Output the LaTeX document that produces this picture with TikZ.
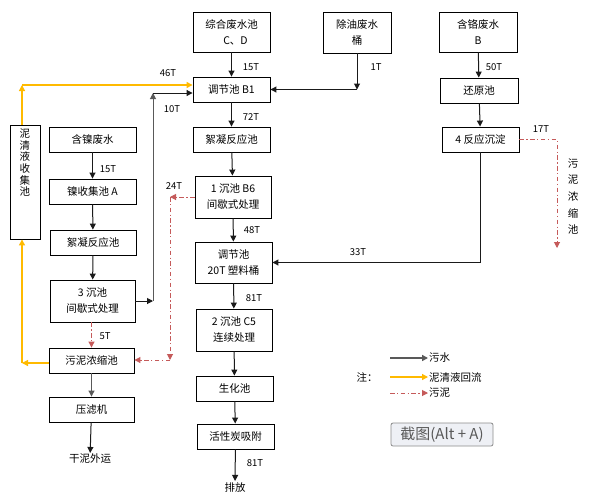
\documentclass[tikz,border=0pt]{standalone}
\usepackage{fontspec}
\setmainfont{Noto Sans CJK SC}
\usetikzlibrary{arrows.meta,positioning}
\definecolor{ink}{HTML}{1A1A1A}
\definecolor{pipe}{HTML}{595959}
\definecolor{recycle}{HTML}{FFBA00}
\definecolor{sludge}{HTML}{C55A5A}
\definecolor{btnfill}{HTML}{EEF0F5}
\definecolor{btnedge}{HTML}{8C8C8C}
\tikzset{
tank/.style={draw=black,line width=.9pt,align=center,font=\fontsize{10.5}{16}\selectfont,inner sep=1pt,minimum height=25pt},
flow/.style={-{Triangle[length=6pt,width=6pt]},line width=1pt,draw=ink},
pipeflow/.style={flow,draw=pipe},
reflux/.style={flow,draw=recycle,line width=1.3pt},
mud/.style={flow,draw=sludge,dash pattern=on 4.5pt off 2.5pt on 1.2pt off 2.5pt},
tag/.style={font=\fontsize{9.5}{11}\selectfont,inner sep=1pt},
note/.style={font=\fontsize{10.5}{12}\selectfont,inner sep=1pt},
button/.style={draw=btnedge,fill=btnfill,rounded corners=2pt,line width=.8pt,text=black!65,font=\fontsize{15}{16}\selectfont,inner sep=1pt}}

\begin{document}
\begin{tikzpicture}[x=1pt,y=-1pt]
\useasboundingbox[fill=white] (0,0) rectangle (591,499);
% sources
\node[tank,minimum width=77pt,minimum height=40pt] (mixed) at (231.5,32) {综合废水池\\\hspace{8pt}C、D};
\node[tank,minimum width=68pt,minimum height=41pt] (oily) at (357,32.5) {除油废水\\桶};
\node[tank,minimum width=78pt,minimum height=40pt] (chrome) at (478,32) {含铬废水\\B};
\node[tank,minimum width=87pt] (nickel) at (92.5,139.5) {含镍废水};
% main line
\node[tank,minimum width=77pt] (b1) at (231.5,89.5) {调节池 B1};
\node[tank,minimum width=77pt] (floc) at (231.5,139.5) {絮凝反应池};
\node[tank,minimum width=76pt,minimum height=42pt] (b6) at (233,197) {1 沉池 B6\\间歇式处理};
\node[tank,minimum width=77pt,minimum height=41pt] (drum) at (233.5,262.5) {调节池\\20T 塑料桶};
\node[tank,minimum width=76pt,minimum height=42pt] (c5) at (234,330) {2 沉池 C5\\连续处理};
\node[tank,minimum width=77pt] (bio) at (234.5,388.5) {生化池};
\node[tank,minimum width=77pt] (carbon) at (235.5,436.5) {活性炭吸附};
\node[note] (outlet) at (235,487) {排放};
% chrome line
\node[tank,minimum width=78pt] (reduce) at (479,90.5) {还原池};
\node[tank,minimum width=77pt] (react4) at (480.5,139.5) {4 反应沉淀};
\node[note,align=center,font=\fontsize{10.5}{16.7}\selectfont] (crsludge) at (573,196.5) {污\\泥\\浓\\缩\\池};
% nickel line
\node[tank,minimum width=87pt] (nipool) at (92.5,191.5) {镍收集池 A};
\node[tank,minimum width=86pt] (nifloc) at (93,242.5) {絮凝反应池};
\node[tank,minimum width=85pt,minimum height=42pt] (settle3) at (92.5,301) {3 沉池\\间歇式处理};
\node[tank,minimum width=85pt] (thicken) at (91.5,360.5) {污泥浓缩池};
\node[tank,minimum width=85pt] (press) at (91.5,409.5) {压滤机};
\node[note] (cake) at (90,459) {干泥外运};
\node[tank,minimum width=30pt,minimum height=114pt] (slurry) at (25,182) {};
\node[note,align=center,font=\fontsize{10.5}{11.7}\selectfont,below=3pt of slurry.north] (slurrytxt) {泥\\清\\液\\收\\集\\池};
% bends
\coordinate (ojoin) at (oily.south |- b1.east);
\coordinate (rise) at (153,301);
\coordinate (turn) at (153,93);
\coordinate (ylow) at (22,363);
\coordinate (ytop) at (22,85);
\coordinate (mbend) at (170,197);
\coordinate (mfoot) at (170,360);
\coordinate (cdrop) at (557,248);
% sewage
\draw[flow] (mixed) -- (b1);
\draw[flow] (oily) -- (ojoin);
\draw[flow] (ojoin) -- (b1.east);
\draw[flow] (b1) -- (floc);
\draw[flow] (floc) -- (b6);
\draw[flow] (b6) -- (drum);
\draw[flow] (drum) -- (c5);
\draw[flow] (c5) -- (bio);
\draw[flow] (bio) -- (carbon);
\draw[flow] (carbon) -- (outlet);
\draw[flow] (chrome) -- (reduce);
\draw[flow] (reduce) -- (react4);
\draw[flow] (react4.south) |- (drum.east);
\draw[flow] (nickel) -- (nipool);
\draw[flow] (nipool) -- (nifloc);
\draw[flow] (nifloc) -- (settle3);
\draw[flow] (settle3.east) -- (rise);
\draw[pipeflow] (rise) -- (turn);
\draw[flow] (turn) -- (turn -| b1.west);
\draw[pipeflow] (thicken) -- (press);
\draw[flow] (press) -- (cake);
% slurry return
\draw[reflux] (ylow -| thicken.west) -- (ylow);
\draw[reflux] (ylow) -- (ylow |- slurry.south);
\draw[reflux] (ytop |- slurry.north) -- (ytop);
\draw[reflux] (ytop) -- (ytop -| b1.west);
% sludge
\draw[mud] (thicken.north |- settle3.south) -- (thicken.north);
\draw[mud] (b6.west) -- (mbend);
\draw[mud] (mbend) -- (mfoot);
\draw[mud] (mfoot) -- (mfoot -| thicken.east);
\draw[mud] (react4.east) -| (cdrop);
% tonnages
\node[tag] at (251,67) {15T};
\node[tag] at (376,67) {1T};
\node[tag] at (494,67) {50T};
\node[tag] at (168,73) {46T};
\node[tag] at (172,109) {10T};
\node[tag] at (251,117) {72T};
\node[tag] at (541,129) {17T};
\node[tag] at (108,169) {15T};
\node[tag] at (174,186) {24T};
\node[tag] at (252,230) {48T};
\node[tag] at (358,252) {33T};
\node[tag] at (254,298) {81T};
\node[tag] at (105,336) {5T};
\node[tag] at (255,463) {81T};
% legend
\coordinate (k1) at (390,358);
\coordinate (k2) at (390,377);
\coordinate (k3) at (390,393);
\node[note,anchor=west] (k1txt) at (428,358) {污水};
\node[note,anchor=west] (k2txt) at (428,377) {泥清液回流};
\node[note,anchor=west] (k3txt) at (428,393) {污泥};
\node[note] (keyhead) at (367,377) {注：};
\draw[pipeflow,line width=1.6pt] (k1) -- (k1txt.west);
\draw[reflux] (k2) -- (k2txt.west);
\draw[mud] (k3) -- (k3txt.west);
\node[button,minimum width=102pt,minimum height=23pt] (snap) at (442,434.5) {截图(Alt + A)};
\end{tikzpicture}
\end{document}
